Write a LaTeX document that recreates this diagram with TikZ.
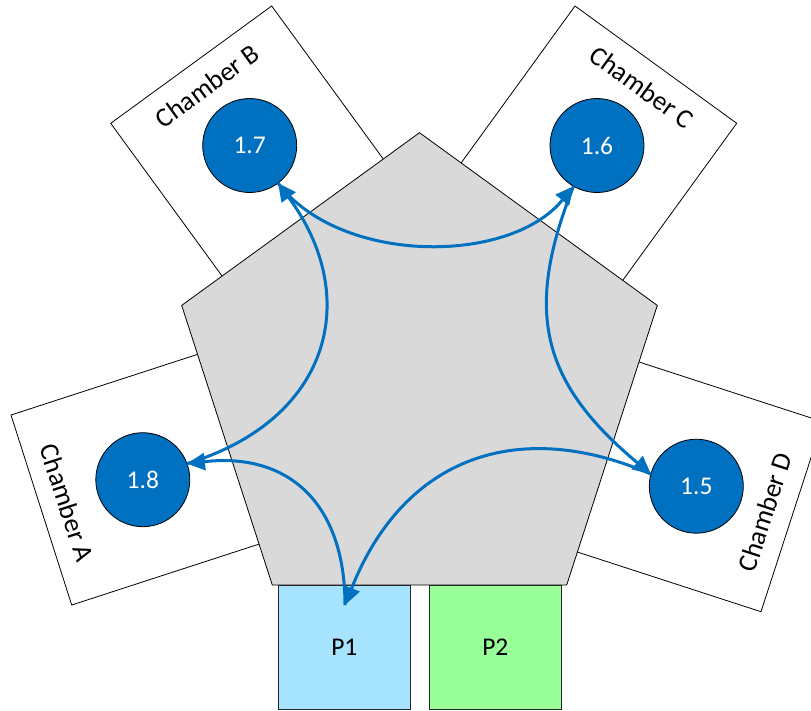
\documentclass[tikz,border=0pt]{standalone}
\usepackage{fontspec}
\setmainfont{Carlito}
\usetikzlibrary{arrows.meta}
\definecolor{chipblue}{HTML}{0070C0}
\definecolor{hubgray}{HTML}{D9D9D9}
\definecolor{portblue}{HTML}{A5E3FF}
\definecolor{portgreen}{HTML}{99FF99}
\begin{document}
\begin{tikzpicture}[x=1pt,y=-1pt,
  chamberbox/.style={draw=black, line width=0.8pt, fill=white},
  chamberlabel/.style={font=\fontsize{27}{31}\selectfont, inner sep=0pt},
  wafer/.style={circle, draw=black, line width=0.8pt, fill=chipblue, text=white,
    minimum size=94pt, inner sep=0pt, outer sep=0pt, font=\fontsize{25.5}{29}\selectfont},
  port/.style={draw=black!85, line width=0.8pt, minimum height=124pt, inner sep=0pt,
    font=\fontsize{25.5}{29}\selectfont},
  transfer/.style={draw=chipblue, line width=3pt, -{Triangle[length=18pt,width=17pt]}}
]
\clip (0,0) rectangle (811,710);
\fill[white] (0,0) rectangle (811,710);

% process chambers around the hub (inner ends hidden under it)
\draw[chamberbox] (110.7,123.3) -- (271.7,6) -- (419,208) -- (258,325.3) -- cycle;
\draw[chamberbox] (575,6) -- (736.7,123.3) -- (589.9,325.6) -- (428.2,208.3) -- cycle;
\draw[chamberbox] (11,415) -- (71.7,605) -- (309.5,527.7) -- (248.8,337.7) -- cycle;
\draw[chamberbox] (822.7,421.7) -- (761,611.7) -- (523.2,534.4) -- (584.9,344.4) -- cycle;

% transfer hub
\draw[fill=hubgray, line width=0.8pt] (419.5,132.7) -- (657.3,305.4) -- (566.7,585)
  -- (272.3,585) -- (181.7,305.4) -- cycle;

% chamber names
\node[chamberlabel, rotate=36]  (labB) at (207,86)  {Chamber B};
\node[chamberlabel, rotate=-36] (labC) at (642,87)  {Chamber C};
\node[chamberlabel, rotate=-72] (labA) at (67,503)  {Chamber A};
\node[chamberlabel, rotate=72]  (labD) at (765,512) {Chamber D};

% wafers
\node[wafer] (w17) at (249.7,145.5) {1.7};
\node[wafer] (w16) at (597,145.5)   {1.6};
\node[wafer] (w18) at (142.8,479.7) {1.8};
\node[wafer] (w15) at (696.3,486.2) {1.5};

% load ports
\node[port, fill=portblue,  minimum width=132pt]   (p1) at (344.3,647.2) {P1};
\node[port, fill=portgreen, minimum width=132.7pt] (p2) at (495.3,647.2) {P2};
\coordinate (p1tip) at (345,605);

% wafer moves
\draw[transfer] (w18.20) .. controls (332,419.5) and (362,296) .. (w17.-53);
\draw[transfer] (w17.-53) .. controls (340,265) and (510,265) .. (w16.240);
\draw[transfer] (w16.240) .. controls (523.9,310.9) and (540.6,382) .. (w15.165);
\draw[transfer] (w15.165) .. controls (518.9,417) and (404,456) .. (p1tip);
\draw[transfer] (p1tip) .. controls (345,505) and (290,452) .. (w18.20);
\end{tikzpicture}
\end{document}
